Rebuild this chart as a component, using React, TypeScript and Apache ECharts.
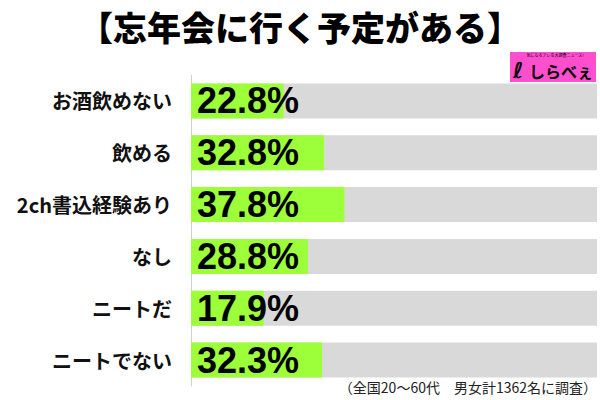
import React, { useEffect, useRef } from "react";
import * as echarts from "echarts";

const categories = ["お酒飲めない", "飲める", "2ch書込経験あり", "なし", "ニートだ", "ニートでない"];
const values = [22.8, 32.8, 37.8, 28.8, 17.9, 32.3];
const title = "【忘年会に行く予定がある】";
const footnote = "（全国20～60代　男女計1362名に調査）";

export default function App() {
  const ref = useRef<HTMLDivElement>(null);
  useEffect(() => {
    if (!ref.current) return;
    const chart = echarts.init(ref.current, undefined, { renderer: "svg" });
    chart.setOption({
      animation: false,
      backgroundColor: "#ffffff",
      grid: { left: 191, right: 3, top: 75, height: 311, containLabel: false },
      xAxis: { type: "value", min: 0, max: 100, show: false },
      yAxis: {
        type: "category",
        data: categories,
        inverse: true,
        axisTick: { show: false },
        axisLine: { show: true, lineStyle: { color: "#d0d0d0", width: 1 } },
        axisLabel: {
          margin: 19,
          color: "#111",
          fontSize: 20,
          fontWeight: "bold",
          fontFamily: "'Noto Sans CJK JP', sans-serif",
        },
      },
      series: [
        {
          type: "bar",
          data: values,
          barWidth: 35,
          showBackground: true,
          backgroundStyle: { color: "#d9d9d9" },
          itemStyle: { color: "#9cff3a" },
          label: {
            show: true,
            position: "insideLeft",
            distance: 6,
            formatter: (p: any) => Number(p.value).toFixed(1) + "%",
            color: "#000",
            fontSize: 36,
            fontWeight: "bold",
            fontFamily: "'Liberation Sans', Arial, sans-serif",
          },
        },
      ],
      graphic: [
        {
          type: "text",
          left: "center",
          top: 9,
          style: {
            text: title,
            fontSize: 34,
            fontWeight: 900,
            fill: "#000",
            fontFamily: "'Noto Sans CJK JP', sans-serif",
          },
        },
        {
          type: "rect",
          shape: { x: 510, y: 52, width: 86, height: 30 },
          style: { fill: "#ff4fcf" },
        },
        {
          type: "text",
          x: 555,
          y: 55,
          style: {
            text: "気になるアレを大調査ニュース!",
            fontSize: 4,
            fill: "#000",
            align: "center",
            verticalAlign: "middle",
            fontFamily: "'Noto Sans CJK JP', sans-serif",
          },
        },
        {
          type: "text",
          x: 513,
          y: 70,
          style: {
            text: "ℓ",
            fontSize: 22,
            fontWeight: "bold",
            fill: "#000",
            verticalAlign: "middle",
            fontFamily: "'DejaVu Sans', sans-serif",
          },
        },
        {
          type: "text",
          x: 529,
          y: 71,
          style: {
            text: "しらべぇ",
            fontSize: 16,
            fontWeight: "bold",
            fill: "#000",
            verticalAlign: "middle",
            fontFamily: "'Noto Sans CJK JP', sans-serif",
          },
        },
        {
          type: "text",
          right: 3,
          top: 380,
          style: {
            text: footnote,
            fontSize: 14,
            fill: "#222",
            fontFamily: "'Noto Sans CJK JP', sans-serif",
          },
        },
      ],
    });
    return () => chart.dispose();
  }, []);
  return <div ref={ref} style={{ width: 600, height: 400, position: "fixed", left: 0, top: 0 }} />;
}
